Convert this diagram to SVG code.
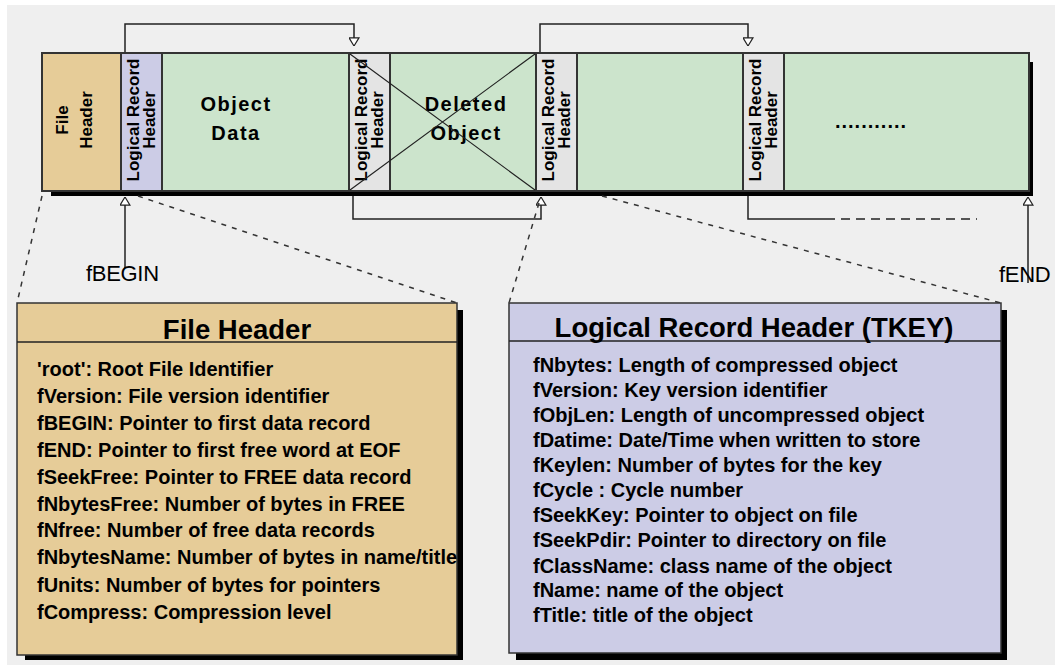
<svg xmlns="http://www.w3.org/2000/svg" width="1055" height="665" viewBox="0 0 1055 665">
  <style>
    .sec { stroke: #333; stroke-width: 2; }
    .tan { fill: #e6cc98; }
    .pur { fill: #cccce6; }
    .grn { fill: #cce4cc; }
    .gry { fill: #e4e4e4; }
    .shadow { fill: #000; }
    .rot { font-family: "Liberation Sans", Arial, sans-serif; font-weight: bold; font-size: 17px; fill: #000; text-anchor: middle; }
    .big { font-family: "Liberation Sans", Arial, sans-serif; font-weight: bold; font-size: 20px; letter-spacing: 1.5px; fill: #000; text-anchor: middle; }
    .lbl { font-family: "Liberation Sans", Arial, sans-serif; font-size: 22px; fill: #000; letter-spacing: -0.3px; }
    .title { font-family: "Liberation Sans", Arial, sans-serif; font-weight: bold; font-size: 27.5px; fill: #000; text-anchor: middle; }
    .body { font-family: "Liberation Sans", Arial, sans-serif; font-weight: bold; font-size: 20px; fill: #000; }
    .conn { fill: none; stroke: #222; stroke-width: 1.5; }
    .dash { fill: none; stroke: #333; stroke-width: 1.5; stroke-dasharray: 5 6; }
    .box { stroke: #333; stroke-width: 1.5; }
  </style>
  <defs>
    <marker id="tri" viewBox="0 0 10 12" refX="9.5" refY="6" markerWidth="9" markerHeight="11" markerUnits="userSpaceOnUse" orient="auto">
      <path d="M0.5,0.5 L9.5,6 L0.5,11.5 Z" fill="#fff" stroke="#222" stroke-width="1.3"/>
    </marker>
  </defs>

  <rect x="7" y="5" width="1048" height="660" fill="#efefef"/>

  <!-- main bar shadow -->
  <rect class="shadow" x="51" y="190" width="982" height="6"/>
  <rect class="shadow" x="1028" y="62" width="5" height="134"/>

  <g id="file-header-seg">
    <rect class="tan sec" x="42" y="53" width="79" height="138"/>
    <text class="rot" transform="translate(68,120) rotate(-90)" x="0" y="0">File</text>
    <text class="rot" transform="translate(92,120) rotate(-90)" x="0" y="0">Header</text>
  </g>
  <g id="lrh-1">
    <rect class="pur sec" x="121" y="53" width="41" height="138"/>
    <text class="rot" transform="translate(139,120) rotate(-90)" x="0" y="0">Logical Record</text>
    <text class="rot" transform="translate(155,120) rotate(-90)" x="0" y="0">Header</text>
  </g>
  <g id="object-data">
    <rect class="grn sec" x="162" y="53" width="187" height="138"/>
    <text class="big" x="236" y="111">Object</text>
    <text class="big" x="236" y="140">Data</text>
  </g>
  <g id="lrh-2">
    <rect class="gry sec" x="349" y="53" width="41" height="138"/>
    <text class="rot" transform="translate(367,120) rotate(-90)" x="0" y="0">Logical Record</text>
    <text class="rot" transform="translate(383,120) rotate(-90)" x="0" y="0">Header</text>
  </g>
  <g id="deleted-object">
    <rect class="grn sec" x="390" y="53" width="146" height="138"/>
    <text class="big" x="466" y="111">Deleted</text>
    <text class="big" x="466" y="140">Object</text>
    <path d="M350,54 L535,190 M350,190 L535,54" stroke="#222" stroke-width="1.2" fill="none"/>
  </g>
  <g id="lrh-3">
    <rect class="gry sec" x="536" y="53" width="41" height="138"/>
    <text class="rot" transform="translate(554,120) rotate(-90)" x="0" y="0">Logical Record</text>
    <text class="rot" transform="translate(570,120) rotate(-90)" x="0" y="0">Header</text>
  </g>
  <g id="data-3">
    <rect class="grn sec" x="577" y="53" width="166" height="138"/>
  </g>
  <g id="lrh-4">
    <rect class="gry sec" x="743" y="53" width="41" height="138"/>
    <text class="rot" transform="translate(761,120) rotate(-90)" x="0" y="0">Logical Record</text>
    <text class="rot" transform="translate(777,120) rotate(-90)" x="0" y="0">Header</text>
  </g>
  <g id="data-more">
    <rect class="grn sec" x="784" y="53" width="245" height="138"/>
    <text class="big" x="871" y="128" style="letter-spacing:1px">...........</text>
  </g>

  <g id="connectors">
    <path class="conn" d="M125,52 V24 H354 V46" marker-end="url(#tri)"/>
    <path class="conn" d="M540,52 V24 H748 V46" marker-end="url(#tri)"/>
    <path class="conn" d="M353,196 V219 H541 V197" marker-end="url(#tri)"/>
    <path class="conn" d="M748,196 V219 H826"/>
    <path class="conn" d="M826,219 H977" stroke-dasharray="9 6"/>
    <path class="conn" d="M125,268 V197" marker-end="url(#tri)"/>
    <path class="conn" d="M1028,283 V197" marker-end="url(#tri)"/>
    <path class="dash" d="M42,196 L17,303"/>
    <path class="dash" d="M138,196 L457,303"/>
    <path class="dash" d="M539,203 L509,303"/>
    <path class="dash" d="M602,196 L1001,303"/>
  </g>

  <g id="label-fbegin">
    <text class="lbl" x="86" y="281">fBEGIN</text>
  </g>
  <g id="label-fend">
    <text class="lbl" x="999" y="282">fEND</text>
  </g>

  <g id="file-header-box">
    <rect class="shadow" x="25" y="310" width="438" height="350"/>
    <rect class="tan box" x="17" y="303" width="440" height="352"/>
    <line x1="17" y1="342" x2="457" y2="342" stroke="#222" stroke-width="1.5"/>
    <text class="title" x="237" y="339">File Header</text>
    <text class="body" x="37" y="376">'root': Root File Identifier</text>
    <text class="body" x="37" y="403">fVersion: File version identifier</text>
    <text class="body" x="37" y="430">fBEGIN: Pointer to first data record</text>
    <text class="body" x="37" y="457">fEND: Pointer to first free word at EOF</text>
    <text class="body" x="37" y="484">fSeekFree: Pointer to FREE data record</text>
    <text class="body" x="37" y="511">fNbytesFree: Number of bytes in FREE</text>
    <text class="body" x="37" y="537">fNfree: Number of free data records</text>
    <text class="body" x="37" y="564">fNbytesName: Number of bytes in name/title</text>
    <text class="body" x="37" y="592">fUnits: Number of bytes for pointers</text>
    <text class="body" x="37" y="619">fCompress: Compression level</text>
  </g>

  <g id="tkey-box">
    <rect class="shadow" x="516" y="310" width="491" height="350"/>
    <rect class="pur box" x="509" y="303" width="492" height="350"/>
    <line x1="509" y1="341" x2="1001" y2="341" stroke="#222" stroke-width="1.5"/>
    <text class="title" x="754" y="337">Logical Record Header (TKEY)</text>
    <text class="body" x="533" y="372">fNbytes: Length of compressed object</text>
    <text class="body" x="533" y="397">fVersion: Key version identifier</text>
    <text class="body" x="533" y="422">fObjLen: Length of uncompressed object</text>
    <text class="body" x="533" y="447">fDatime: Date/Time when written to store</text>
    <text class="body" x="533" y="472">fKeylen: Number of bytes for the key</text>
    <text class="body" x="533" y="497">fCycle : Cycle number</text>
    <text class="body" x="533" y="522">fSeekKey: Pointer to object on file</text>
    <text class="body" x="533" y="547">fSeekPdir: Pointer to directory on file</text>
    <text class="body" x="533" y="573">fClassName: class name of the object</text>
    <text class="body" x="533" y="597">fName: name of the object</text>
    <text class="body" x="533" y="622">fTitle: title of the object</text>
  </g>
</svg>
